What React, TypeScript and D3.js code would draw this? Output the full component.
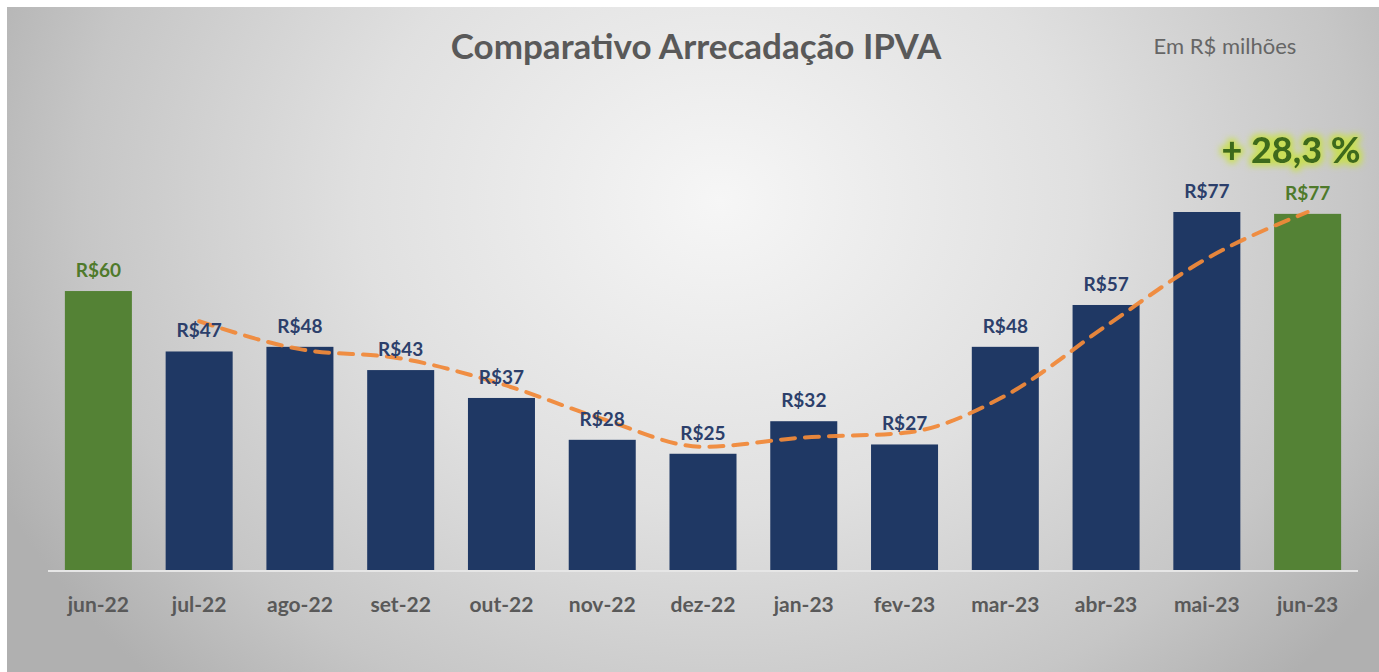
import React from 'react';
import * as d3 from 'd3';

const months = ['jun-22', 'jul-22', 'ago-22', 'set-22', 'out-22', 'nov-22', 'dez-22', 'jan-23', 'fev-23', 'mar-23', 'abr-23', 'mai-23', 'jun-23'];
const values = [60, 47, 48, 43, 37, 28, 25, 32, 27, 48, 57, 77, 76.6];
const labels = ['R$60', 'R$47', 'R$48', 'R$43', 'R$37', 'R$28', 'R$25', 'R$32', 'R$27', 'R$48', 'R$57', 'R$77', 'R$77'];
// trend line (dashed orange), from jul-22 to jun-23
const trendMonths = months.slice(1);
const trendValues = [53.5, 47.5, 45.5, 40, 32.5, 26.5, 28.5, 29.5, 37.5, 52.5, 67, 77];
const highlighted = ['jun-22', 'jun-23'];

const W = 1379;
const H = 672;
const font = 'Lato, "Open Sans", sans-serif';

const App = () => {
  const x = d3.scaleBand<string>()
    .domain(months)
    .range([48, 1358])
    .paddingInner(0.335)
    .paddingOuter(0.1675);

  const y = d3.scaleLinear()
    .domain([0, 77])
    .range([570, 212]);

  const trendLine = d3.line<number>()
    .x((d, i) => (x(trendMonths[i]) ?? 0) + x.bandwidth() / 2)
    .y(d => y(d))
    .curve(d3.curveMonotoneX);

  return (
    <svg width={W} height={H} style={{ position: 'absolute', left: 0, top: 0, display: 'block' }}>
      <defs>
        <radialGradient id="bg" gradientUnits="userSpaceOnUse" cx={720} cy={200} r={800}
          gradientTransform="translate(720,200) scale(1,0.85) translate(-720,-200)">
          <stop offset="0" stopColor="#f6f6f6" />
          <stop offset="0.45" stopColor="#e0e0e0" />
          <stop offset="0.8" stopColor="#c6c6c6" />
          <stop offset="1" stopColor="#b0b0b0" />
        </radialGradient>
        <filter id="glow" x="-20%" y="-40%" width="140%" height="180%">
          <feMorphology in="SourceAlpha" operator="dilate" radius="3" result="d" />
          <feGaussianBlur in="d" stdDeviation="3" result="b" />
          <feFlood floodColor="#c8e04a" floodOpacity="0.9" />
          <feComposite in2="b" operator="in" result="g" />
          <feMerge>
            <feMergeNode in="g" />
            <feMergeNode in="SourceGraphic" />
          </feMerge>
        </filter>
      </defs>
      <rect width={W} height={H} fill="#ffffff" />
      <rect x={7} y={7} width={W - 7} height={H - 7} fill="url(#bg)" />

      <text x={696} y={59} textAnchor="middle" fontFamily={font} fontWeight="bold" fontSize={35} fill="#595959">
        Comparativo Arrecadação IPVA
      </text>
      <text x={1225} y={54} textAnchor="middle" fontFamily={font} fontSize={22} fill="#666666">
        Em R$ milhões
      </text>

      {months.map((m, i) => (
        <rect key={m} x={x(m)} y={y(values[i])} width={x.bandwidth()} height={y(0) - y(values[i])}
          fill={highlighted.includes(m) ? '#548235' : '#1f3864'} />
      ))}

      <line x1={48} x2={1358} y1={y(0) + 1} y2={y(0) + 1} stroke="#e6e6e6" strokeWidth={2} />

      <path d={trendLine(trendValues) ?? ''} fill="none" stroke="#f0893a" strokeWidth={4}
        strokeDasharray="14 10" strokeLinecap="round" opacity={0.95} />

      {months.map((m, i) => (
        <text key={m} x={(x(m) ?? 0) + x.bandwidth() / 2} y={y(values[i]) - 14} textAnchor="middle"
          fontFamily={font} fontWeight="bold" fontSize={19}
          fill={highlighted.includes(m) ? '#4f7a2b' : '#2c3f6b'}>
          {labels[i]}
        </text>
      ))}

      {months.map(m => (
        <text key={m} x={(x(m) ?? 0) + x.bandwidth() / 2} y={612} textAnchor="middle"
          fontFamily={font} fontWeight="bold" fontSize={21} fill="#595959">
          {m}
        </text>
      ))}

      <text x={1291} y={163} textAnchor="middle" fontFamily={font} fontWeight="900" fontSize={36}
        fill="#3c6a1e" filter="url(#glow)">
        + 28,3 %
      </text>
    </svg>
  );
};

export default App;
